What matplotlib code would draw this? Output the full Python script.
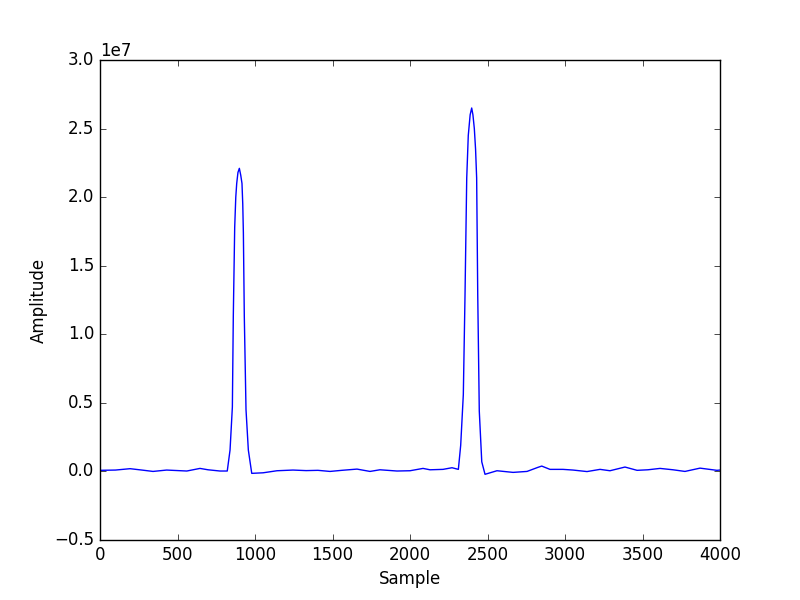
import matplotlib
matplotlib.use("Agg")
import matplotlib.pyplot as plt

# sample index / amplitude
samples = [0, 100, 194, 270, 342, 430, 560, 645, 697, 774, 821,
           839, 854, 860, 869, 876, 882, 890, 899, 908, 916, 921, 925, 931, 942, 957, 979,
           1052, 1142, 1245, 1330, 1406, 1484, 1560, 1658, 1742, 1806, 1916,
           2000, 2084, 2129, 2213, 2271, 2312,
           2327, 2344, 2355, 2366, 2376, 2388, 2398, 2406, 2415, 2423, 2430, 2437, 2447, 2463, 2484,
           2561, 2665, 2755, 2826, 2850, 2903, 2987, 3052, 3142, 3226, 3290,
           3387, 3465, 3535, 3613, 3697, 3774, 3871, 3980, 4000]
amplitude = [0.8e5, 1.0e5, 2.0e5, 1.0e5, 0.0, 1.0e5, 0.3e5, 2.2e5, 1.2e5, 0.3e5, 0.3e5,
             1.56e6, 4.7e6, 1.13e7, 1.78e7, 2.0e7, 2.1e7, 2.18e7, 2.21e7, 2.16e7, 2.1e7, 1.95e7, 1.74e7, 1.13e7, 4.5e6, 1.56e6, -1.4e5,
             -1.0e5, 0.5e5, 1.0e5, 0.6e5, 0.8e5, 0.0, 0.8e5, 1.7e5, 0.0, 1.2e5, 0.3e5,
             0.5e5, 2.2e5, 1.2e5, 1.5e5, 2.7e5, 1.5e5,
             1.9e6, 5.6e6, 1.29e7, 2.14e7, 2.45e7, 2.6e7, 2.65e7, 2.6e7, 2.5e7, 2.35e7, 2.14e7, 1.29e7, 4.4e6, 7e5, -2.1e5,
             0.5e5, -0.7e5, 0.0, 3.0e5, 3.9e5, 1.5e5, 1.5e5, 1.0e5, -0.1e5, 1.5e5, 0.5e5,
             3.2e5, 0.8e5, 1.2e5, 2.2e5, 1.2e5, 0.0, 2.4e5, 0.8e5, 1.0e5]

plt.style.use('classic')
plt.figure(figsize=(8, 6), dpi=100, facecolor='white')
plt.plot(samples, amplitude, 'b-')
plt.xlim(0, 4000)
plt.ylim(-0.5e7, 3.0e7)
plt.xlabel('Sample')
plt.ylabel('Amplitude')
plt.savefig('out.png', dpi=100, facecolor='white')
